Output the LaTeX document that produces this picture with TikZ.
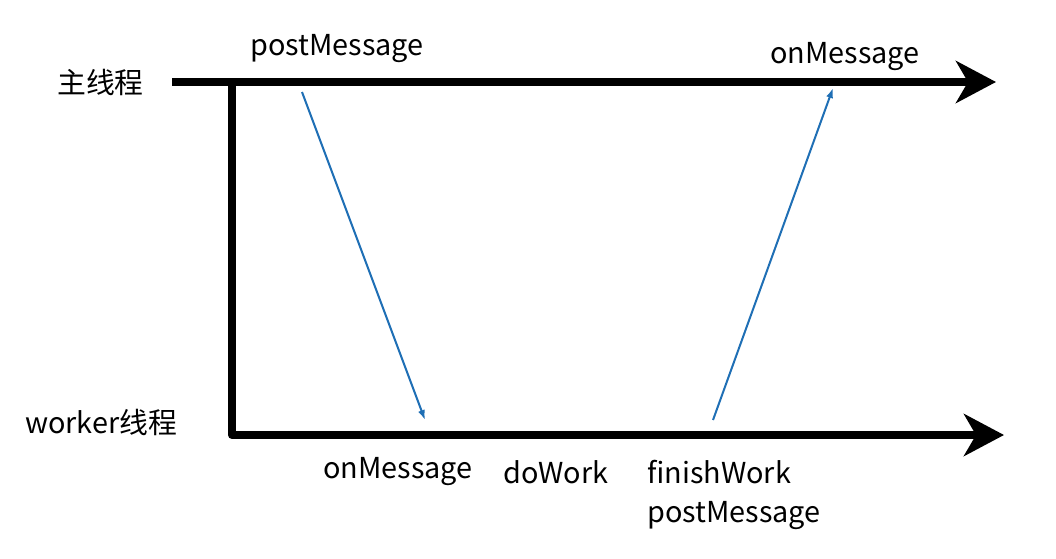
\documentclass[tikz,border=0pt]{standalone}
\usepackage{fontspec}
\setmainfont{Noto Sans CJK SC}
\usetikzlibrary{arrows.meta}
\definecolor{msgblue}{HTML}{1F6FB5}
\tikzset{
	thread/.style={line width=0.2cm, line join=round, -{Stealth[length=1cm, width=1.05cm, inset=0.3cm]}},
	msg/.style={msgblue, line width=0.05cm, -{Latex[length=0.25cm, width=0.18cm]}},
	lbl/.style={anchor=west, inner sep=0pt, font=\fontsize{20.5}{24}\selectfont}
}
\begin{document}
\begin{tikzpicture}[x=0.025cm, y=-0.025cm]
		\useasboundingbox (0,0) rectangle (1056,558);
		\node [] (0) at (172, 82) {};
		\node [] (1) at (996, 82) {};
		\node [] (2) at (232, 86) {};
		\node [] (3) at (1004, 435) {};
		\node [] (4) at (302, 92) {};
		\node [] (5) at (425, 420) {};
		\node [] (6) at (713, 420) {};
		\node [] (7) at (833, 88) {};

		\draw [thread] (0.center) to (1.center);
		\draw [thread] (2.center) |- (3.center);

		\draw [msg] (4.center) to (5.center);
		\draw [msg] (6.center) to (7.center);

		\node [lbl] (main) at (57, 82) {主线程};
		\node [lbl] (worker) at (25, 422) {worker线程};
		\node [lbl] (post) at (250, 49) {postMessage};
		\node [lbl] (onmain) at (770, 57) {onMessage};
		\node [lbl] (onwork) at (323, 472) {onMessage};
		\node [lbl] (dowork) at (503, 472) {doWork};
		\node [lbl] (finish) at (647, 472) {finishWork};
		\node [lbl] (postwork) at (647, 516) {postMessage};
\end{tikzpicture}
\end{document}
